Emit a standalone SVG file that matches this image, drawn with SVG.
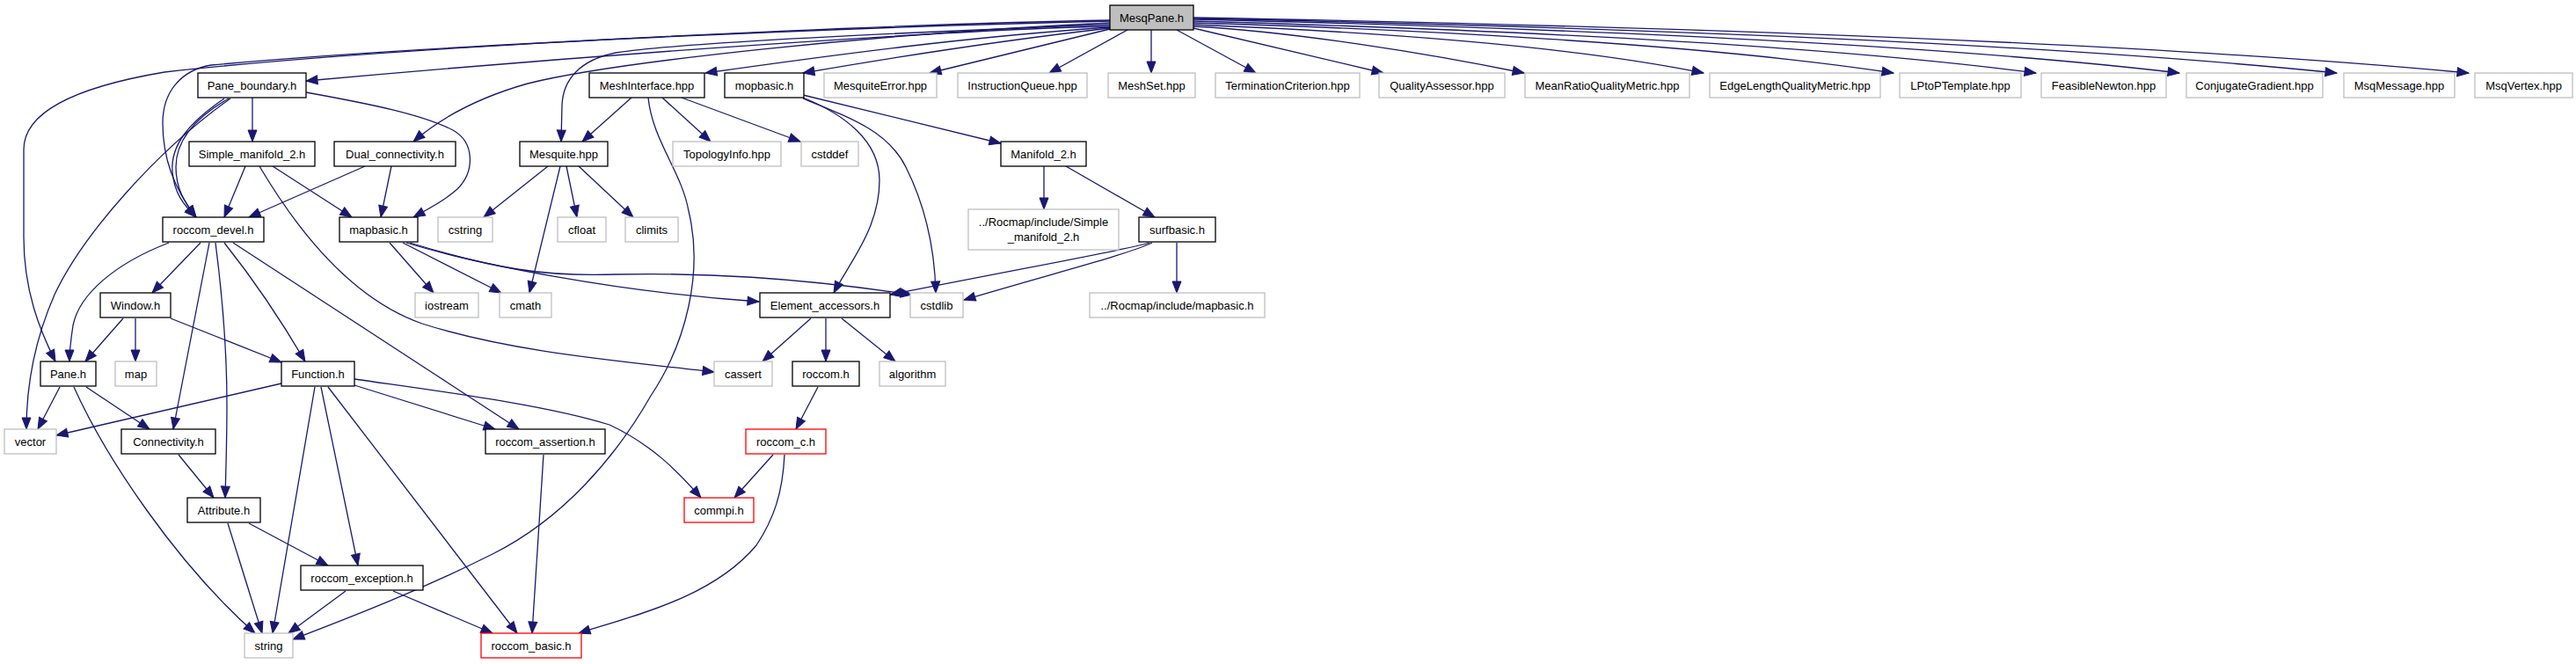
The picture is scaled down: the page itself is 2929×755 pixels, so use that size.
<svg xmlns="http://www.w3.org/2000/svg" width="2929" height="755" viewBox="0 0 2929 755">
<defs>
<style>
rect{fill:#ffffff;stroke-width:1.3}
.n{stroke:#000000}
.g{stroke:#bfbfbf}
.r{stroke:#ff0000}
.root{fill:#bfbfbf;stroke:#000000}
text{font-family:"Liberation Sans",Arial,Helvetica,sans-serif;font-size:13px;fill:#000000;text-anchor:middle}
#edges path{fill:none;stroke:#191970;stroke-width:1.3;marker-end:url(#arr)}
</style>
<marker id="arr" markerUnits="userSpaceOnUse" markerWidth="14" markerHeight="11" refX="13" refY="5" orient="auto" overflow="visible">
<path d="M0,0 L13,5 L0,10 Z" fill="#191970" stroke="#191970" stroke-width="1"/>
</marker>
</defs>
<rect x="0" y="0" width="2929" height="755" style="fill:#ffffff;stroke:none"/>
<g id="edges">
<path d="M1262,30 C1100,33 700,60 348,92"/>
<path d="M1262,24 C1000,30 500,50 240,74 C205,80 185,105 185,140 C185,180 198,215 223,247"/>
<path d="M1262,23 C1000,28 450,52 187,82 C110,95 27,120 27,170 L27,270 C27,330 45,375 63,411"/>
<path d="M1262,26 C1000,38 700,70 600,95 C540,112 500,135 470,161"/>
<path d="M1262,28 C1050,36 780,48 700,60 C660,68 640,90 639,120 L638,161"/>
<path d="M1262,31 C1100,42 950,62 802,83"/>
<path d="M1262,32 C1120,48 1000,68 913,83"/>
<path d="M1262,33 L1057,83"/>
<path d="M1282,34 L1193,83"/>
<path d="M1309,34 L1309,83"/>
<path d="M1338,34 L1428,83"/>
<path d="M1357,32 L1573,83"/>
<path d="M1357,30 C1470,36 1620,60 1733,83"/>
<path d="M1357,28 C1531,35 1775,50 1937,83"/>
<path d="M1357,26 C1596,33 1930,49 2153,83"/>
<path d="M1357,24 C1644,32 2047,48 2315,83"/>
<path d="M1357,22 C1693,30 2164,46 2478,83"/>
<path d="M1357,21 C1747,29 2293,46 2657,83"/>
<path d="M1357,20 C1792,28 2401,45 2807,83"/>
<path d="M287,111 L287,161"/>
<path d="M260,112 C220,135 200,160 200,190 C200,215 210,230 223,247"/>
<path d="M255,112 C214,140 194,165 196,195 C198,220 209,233 223,247"/>
<path d="M262,112 C180,170 95,265 62,335 C38,390 30,440 30,488"/>
<path d="M348,105 C420,118 480,130 515,148 C540,162 540,195 520,215 C505,228 490,236 470,247"/>
<path d="M279,189 L255,247"/>
<path d="M310,189 L400,247"/>
<path d="M295,189 C340,265 400,340 480,368 C580,400 700,410 812,423"/>
<path d="M415,189 L283,247"/>
<path d="M445,189 L433,247"/>
<path d="M718,111 L662,161"/>
<path d="M753,111 L808,161"/>
<path d="M775,111 L910,161"/>
<path d="M737,111 C742,160 775,195 783,240 C800,310 780,390 740,450 C700,520 640,590 560,630 C470,675 390,705 333,727"/>
<path d="M623,189 L550,247"/>
<path d="M637,189 L602,333"/>
<path d="M644,189 L656,247"/>
<path d="M658,189 L720,247"/>
<path d="M913,108 L1138,163"/>
<path d="M913,111 C960,130 1000,160 1000,205 C1000,260 965,300 948,333"/>
<path d="M913,112 C970,135 1010,150 1030,190 C1055,240 1063,290 1064,333"/>
<path d="M1187,189 L1187,238"/>
<path d="M1212,189 L1313,247"/>
<path d="M1307,276 C1290,282 1200,298 1012,335"/>
<path d="M1310,276 C1280,290 1200,310 1096,341"/>
<path d="M1338,276 L1338,333"/>
<path d="M443,276 L493,333"/>
<path d="M458,276 L570,333"/>
<path d="M462,276 C540,300 700,332 863,343"/>
<path d="M466,276 C560,305 620,315 700,312 C800,310 900,315 1037,335"/>
<path d="M192,276 C130,300 90,335 83,370 C80,390 79,400 79,411"/>
<path d="M228,276 L173,333"/>
<path d="M238,276 L197,488"/>
<path d="M245,276 C252,330 258,400 258,460 C258,500 257,530 256,566"/>
<path d="M255,276 C290,320 320,365 347,411"/>
<path d="M265,276 L590,488"/>
<path d="M140,362 L97,411"/>
<path d="M154,362 L154,411"/>
<path d="M194,362 L320,412"/>
<path d="M68,440 L43,488"/>
<path d="M98,440 L170,488"/>
<path d="M84,440 C120,520 200,640 290,720"/>
<path d="M320,436 L64,495"/>
<path d="M358,440 L310,720"/>
<path d="M365,440 L407,643"/>
<path d="M373,440 L588,720"/>
<path d="M403,431 C500,445 620,460 693,483 C740,505 770,535 797,566"/>
<path d="M403,438 L563,488"/>
<path d="M203,517 L243,566"/>
<path d="M259,595 L298,720"/>
<path d="M283,595 L373,643"/>
<path d="M393,672 L328,720"/>
<path d="M447,672 L560,720"/>
<path d="M618,517 L605,720"/>
<path d="M922,362 L867,411"/>
<path d="M939,362 L939,411"/>
<path d="M957,362 L1018,411"/>
<path d="M930,440 L905,488"/>
<path d="M879,517 L835,566"/>
<path d="M892,517 C890,560 880,590 860,620 C810,680 720,700 658,720"/>
</g>
<g id="MesqPane"><rect class="root" x="1262" y="6" width="95" height="28"/><text x="1309.5" y="24.5">MesqPane.h</text></g>
<g id="Pane_boundary"><rect class="n" x="225" y="83" width="123" height="28"/><text x="286.5" y="101.5">Pane_boundary.h</text></g>
<g id="MeshInterface"><rect class="n" x="670" y="83" width="131" height="28"/><text x="735.5" y="101.5">MeshInterface.hpp</text></g>
<g id="mopbasic"><rect class="n" x="824" y="83" width="90" height="28"/><text x="869" y="101.5">mopbasic.h</text></g>
<g id="MesquiteError"><rect class="g" x="937" y="83" width="128" height="28"/><text x="1001" y="101.5">MesquiteError.hpp</text></g>
<g id="InstructionQueue"><rect class="g" x="1089" y="83" width="147" height="28"/><text x="1162.5" y="101.5">InstructionQueue.hpp</text></g>
<g id="MeshSet"><rect class="g" x="1260" y="83" width="99" height="28"/><text x="1309.5" y="101.5">MeshSet.hpp</text></g>
<g id="TerminationCriterion"><rect class="g" x="1382" y="83" width="164" height="28"/><text x="1464" y="101.5">TerminationCriterion.hpp</text></g>
<g id="QualityAssessor"><rect class="g" x="1568" y="83" width="143" height="28"/><text x="1639.5" y="101.5">QualityAssessor.hpp</text></g>
<g id="MeanRatioQualityMetric"><rect class="g" x="1734" y="83" width="187" height="28"/><text x="1827.5" y="101.5">MeanRatioQualityMetric.hpp</text></g>
<g id="EdgeLengthQualityMetric"><rect class="g" x="1944" y="83" width="194" height="28"/><text x="2041" y="101.5">EdgeLengthQualityMetric.hpp</text></g>
<g id="LPtoPTemplate"><rect class="g" x="2160" y="83" width="138" height="28"/><text x="2229" y="101.5">LPtoPTemplate.hpp</text></g>
<g id="FeasibleNewton"><rect class="g" x="2321" y="83" width="142" height="28"/><text x="2392" y="101.5">FeasibleNewton.hpp</text></g>
<g id="ConjugateGradient"><rect class="g" x="2486" y="83" width="155" height="28"/><text x="2563.5" y="101.5">ConjugateGradient.hpp</text></g>
<g id="MsqMessage"><rect class="g" x="2665" y="83" width="126" height="28"/><text x="2728" y="101.5">MsqMessage.hpp</text></g>
<g id="MsqVertex"><rect class="g" x="2814" y="83" width="111" height="28"/><text x="2869.5" y="101.5">MsqVertex.hpp</text></g>
<g id="Simple_manifold_2"><rect class="n" x="215" y="161" width="143" height="28"/><text x="286.5" y="179.5">Simple_manifold_2.h</text></g>
<g id="Dual_connectivity"><rect class="n" x="380" y="161" width="138" height="28"/><text x="449" y="179.5">Dual_connectivity.h</text></g>
<g id="Mesquite"><rect class="n" x="591" y="161" width="100" height="28"/><text x="641" y="179.5">Mesquite.hpp</text></g>
<g id="TopologyInfo"><rect class="g" x="765" y="161" width="123" height="28"/><text x="826.5" y="179.5">TopologyInfo.hpp</text></g>
<g id="cstddef"><rect class="g" x="911" y="161" width="65" height="28"/><text x="943.5" y="179.5">cstddef</text></g>
<g id="Manifold_2"><rect class="n" x="1138" y="161" width="97" height="28"/><text x="1186.5" y="179.5">Manifold_2.h</text></g>
<g id="Rocmap_Simple_manifold_2"><rect class="g" x="1101" y="238" width="171" height="46"/><text x="1186.5" y="257">../Rocmap/include/Simple</text><text x="1186.5" y="273.5">_manifold_2.h</text></g>
<g id="roccom_devel"><rect class="n" x="185" y="247" width="115" height="28"/><text x="242.5" y="265.5">roccom_devel.h</text></g>
<g id="mapbasic"><rect class="n" x="386" y="247" width="89" height="28"/><text x="430.5" y="265.5">mapbasic.h</text></g>
<g id="cstring"><rect class="g" x="498" y="247" width="62" height="28"/><text x="529" y="265.5">cstring</text></g>
<g id="cfloat"><rect class="g" x="634" y="247" width="55" height="28"/><text x="661.5" y="265.5">cfloat</text></g>
<g id="climits"><rect class="g" x="711" y="247" width="60" height="28"/><text x="741" y="265.5">climits</text></g>
<g id="surfbasic"><rect class="n" x="1295" y="247" width="87" height="28"/><text x="1338.5" y="265.5">surfbasic.h</text></g>
<g id="Window"><rect class="n" x="114" y="333" width="80" height="28"/><text x="154" y="351.5">Window.h</text></g>
<g id="iostream"><rect class="g" x="472" y="333" width="72" height="28"/><text x="508" y="351.5">iostream</text></g>
<g id="cmath"><rect class="g" x="568" y="333" width="59" height="28"/><text x="597.5" y="351.5">cmath</text></g>
<g id="Element_accessors"><rect class="n" x="864" y="333" width="148" height="28"/><text x="938" y="351.5">Element_accessors.h</text></g>
<g id="cstdlib"><rect class="g" x="1035" y="333" width="60" height="28"/><text x="1065" y="351.5">cstdlib</text></g>
<g id="Rocmap_mapbasic"><rect class="g" x="1239" y="333" width="199" height="28"/><text x="1338.5" y="351.5">../Rocmap/include/mapbasic.h</text></g>
<g id="Pane"><rect class="n" x="46" y="411" width="63" height="28"/><text x="77.5" y="429.5">Pane.h</text></g>
<g id="map"><rect class="g" x="131" y="411" width="47" height="28"/><text x="154.5" y="429.5">map</text></g>
<g id="Function"><rect class="n" x="320" y="411" width="83" height="28"/><text x="361.5" y="429.5">Function.h</text></g>
<g id="cassert"><rect class="g" x="812" y="411" width="66" height="28"/><text x="845" y="429.5">cassert</text></g>
<g id="roccom"><rect class="n" x="901" y="411" width="76" height="28"/><text x="939" y="429.5">roccom.h</text></g>
<g id="algorithm"><rect class="g" x="1000" y="411" width="75" height="28"/><text x="1037.5" y="429.5">algorithm</text></g>
<g id="vector"><rect class="g" x="5" y="488" width="59" height="28"/><text x="34.5" y="506.5">vector</text></g>
<g id="Connectivity"><rect class="n" x="138" y="488" width="107" height="28"/><text x="191.5" y="506.5">Connectivity.h</text></g>
<g id="roccom_assertion"><rect class="n" x="552" y="488" width="136" height="28"/><text x="620" y="506.5">roccom_assertion.h</text></g>
<g id="roccom_c"><rect class="r" x="848" y="488" width="91" height="28"/><text x="893.5" y="506.5">roccom_c.h</text></g>
<g id="Attribute"><rect class="n" x="213" y="566" width="83" height="28"/><text x="254.5" y="584.5">Attribute.h</text></g>
<g id="commpi"><rect class="r" x="778" y="566" width="79" height="28"/><text x="817.5" y="584.5">commpi.h</text></g>
<g id="roccom_exception"><rect class="n" x="342" y="643" width="139" height="28"/><text x="411.5" y="661.5">roccom_exception.h</text></g>
<g id="string"><rect class="g" x="278" y="720" width="55" height="28"/><text x="305.5" y="738.5">string</text></g>
<g id="roccom_basic"><rect class="r" x="547" y="720" width="114" height="28"/><text x="604" y="738.5">roccom_basic.h</text></g>
</svg>
